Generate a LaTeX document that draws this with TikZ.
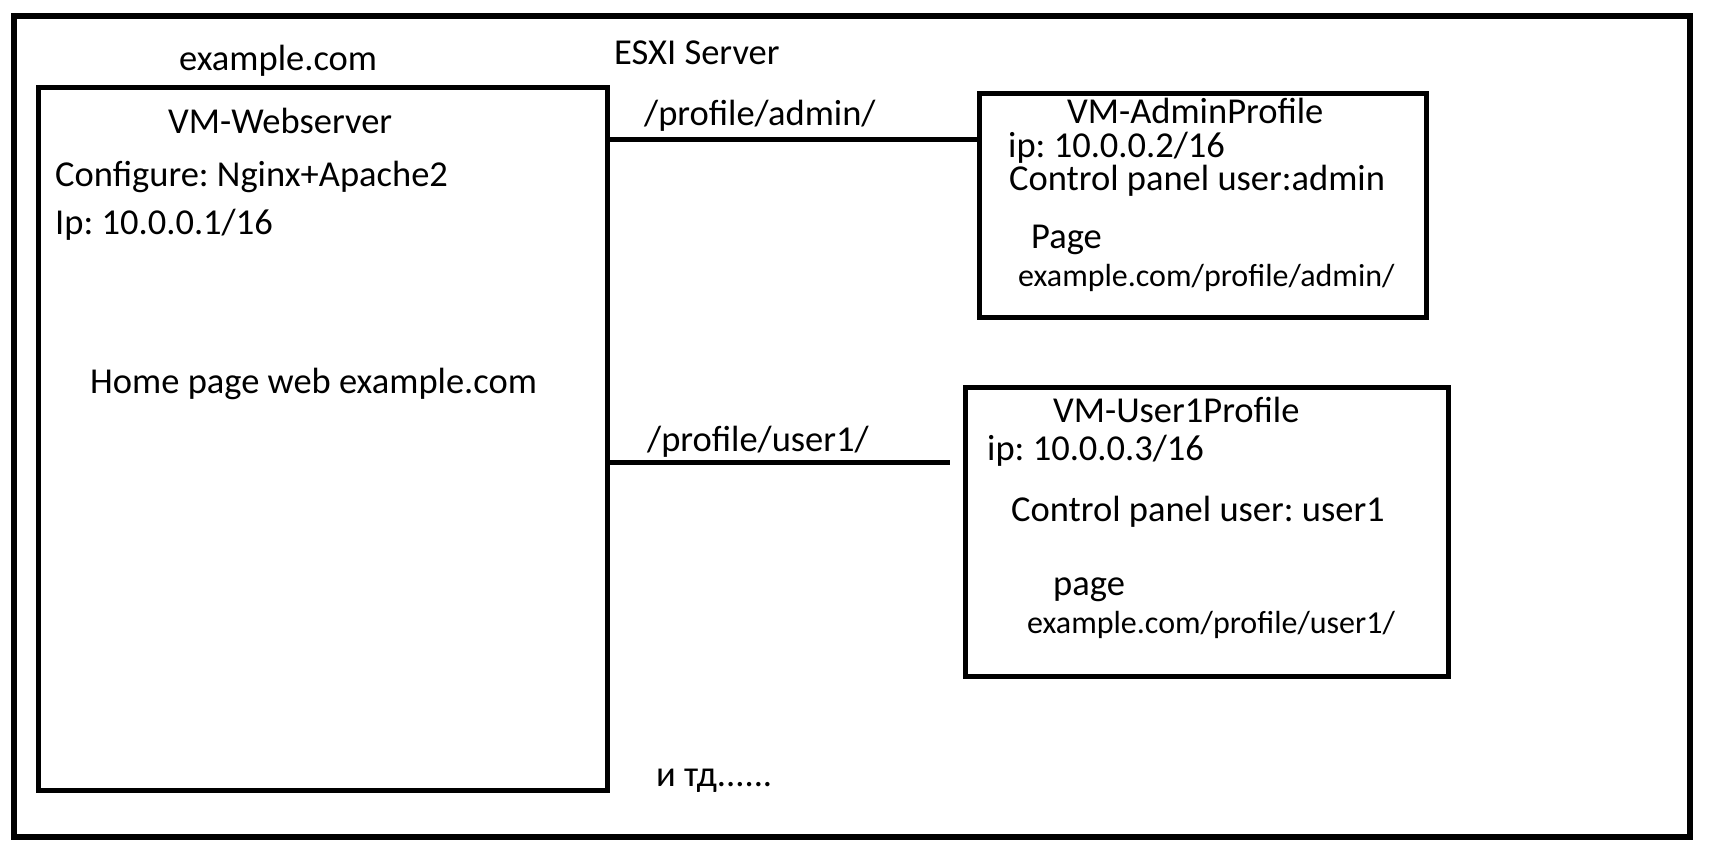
\documentclass[tikz,border=0pt]{standalone}
\usepackage{fontspec}
\setmainfont{Carlito}
\frenchspacing
\usetikzlibrary{positioning}
\tikzset{
  vmbox/.style={draw, line width=5pt, anchor=north west, inner sep=0pt},
  link/.style={line width=5pt},
  lbl/.style={anchor=base west, inner sep=0pt, font=\fontsize{36.5}{43}\selectfont},
  lblsmall/.style={anchor=base west, inner sep=0pt, font=\fontsize{32}{38}\selectfont}
}

\begin{document}
\begin{tikzpicture}[x=1pt, y=-1pt]
  \useasboundingbox (0,0) rectangle (1733,847);
  \fill[white] (0,0) rectangle (1733,847);

  % ESXI host
  \node[vmbox, line width=5.5pt, minimum width=1676pt, minimum height=821pt] (esxi) at (11,13) {};
  \node[lbl] (esxilbl) at (614,64) {ESXI Server};

  % Web server VM
  \node[vmbox, minimum width=569pt, minimum height=703pt] (web) at (36,85) {};
  \node[lbl] (domain) at (179,70) {example.com};
  \node[lbl] (webname) at (168,133) {VM-Webserver};
  \node[lbl] (webconf) at (55,186) {Configure: Nginx+Apache2};
  \node[lbl] (webip) at (55,234) {Ip: 10.0.0.1/16};
  \node[lbl] (webhome) at (90,393) {Home page web example.com};

  % Admin profile VM
  \node[vmbox, minimum width=447pt, minimum height=224pt] (admin) at (977,91) {};
  \node[lbl] (adminname) at (1067,123) {VM-AdminProfile};
  \node[lbl] (adminip) at (1008,157) {ip: 10.0.0.2/16};
  \node[lbl] (adminuser) at (1009,190) {Control panel user:admin};
  \node[lbl] (adminpage) at (1031,248) {Page};
  \node[lblsmall] (adminurl) at (1018,286) {example.com/profile/admin/};

  % User1 profile VM
  \node[vmbox, minimum width=483pt, minimum height=289pt] (user1) at (963,385) {};
  \node[lbl] (username) at (1053,422) {VM-User1Profile};
  \node[lbl] (userip) at (987,460) {ip: 10.0.0.3/16};
  \node[lbl] (useruser) at (1011,521) {Control panel user: user1};
  \node[lbl] (userpage) at (1053,595) {page};
  \node[lblsmall] (userurl) at (1027,633) {example.com/profile/user1/};

  % Routes
  \coordinate (webadmin) at (web.east |- 0,139);
  \coordinate (webuser) at (web.east |- 0,462);
  \coordinate (userend) at (950,462);
  \draw[link] (webadmin) -- (admin.west |- webadmin);
  \node[lbl] (adminroute) at (644,125) {/profile/admin/};
  \draw[link] (webuser) -- (userend);
  \node[lbl] (userroute) at (647,451) {/profile/user1/};

  % And so on
  \node[lbl] (etc) at (656,786) {и тд......};
\end{tikzpicture}
\end{document}
